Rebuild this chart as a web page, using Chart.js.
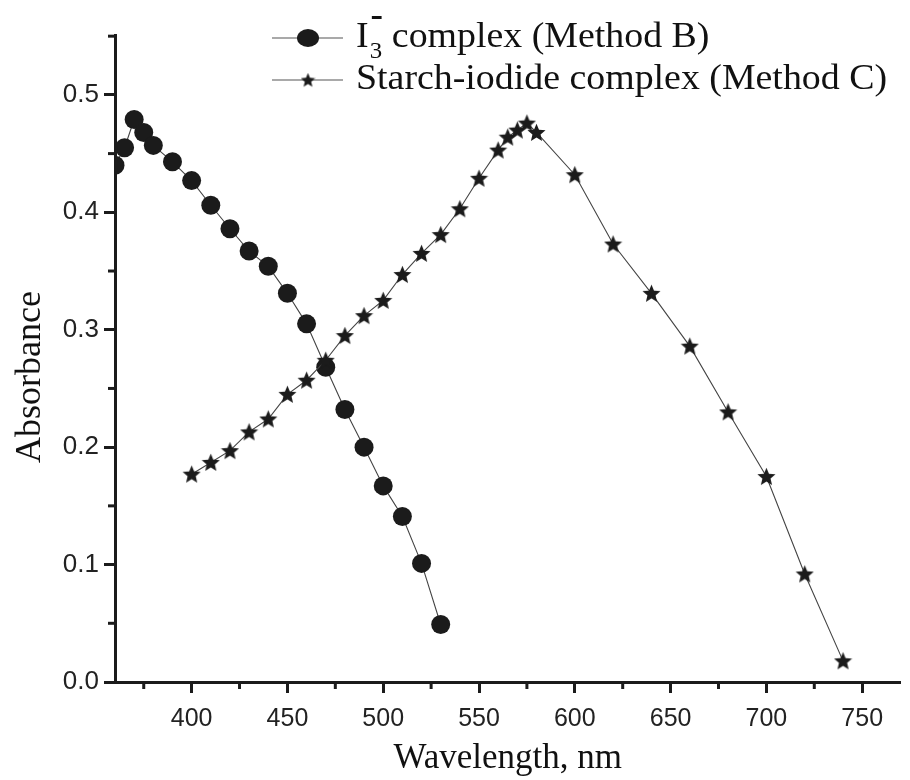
<!DOCTYPE html>
<html>
<head>
<meta charset="utf-8">
<script src="https://cdn.jsdelivr.net/npm/chart.js@4.4.1/dist/chart.umd.min.js"></script>
<style>
  html, body { margin: 0; background: #fff; overflow: hidden; }
  #wrap { width: 910px; height: 780px; position: relative; }
  #myChart { display: block; }
</style>
</head>
<body>
<div id="wrap"><canvas id="myChart"></canvas></div>
<script>
// I3- complex (Method B)
const wavelengthB = [360, 365, 370, 375, 380, 390, 400, 410, 420, 430, 440, 450, 460, 470, 480, 490, 500, 510, 520, 530];
const absorbanceB = [0.440, 0.455, 0.479, 0.468, 0.457, 0.443, 0.427, 0.406, 0.386, 0.367, 0.354, 0.331, 0.305, 0.268, 0.232, 0.200, 0.167, 0.141, 0.101, 0.049];

// Starch-iodide complex (Method C)
const wavelengthC = [400, 410, 420, 430, 440, 450, 460, 470, 480, 490, 500, 510, 520, 530, 540, 550, 560, 565, 570, 575, 580, 600, 620, 640, 660, 680, 700, 720, 740];
const absorbanceC = [0.177, 0.187, 0.197, 0.213, 0.224, 0.245, 0.257, 0.274, 0.295, 0.312, 0.325, 0.347, 0.365, 0.381, 0.403, 0.429, 0.453, 0.464, 0.470, 0.476, 0.468, 0.432, 0.373, 0.331, 0.286, 0.230, 0.175, 0.092, 0.018];

const xTicks = [400, 450, 500, 550, 600, 650, 700, 750];
const xMinorTicks = [375, 425, 475, 525, 575, 625, 675, 725];
const yTicks = [0.0, 0.1, 0.2, 0.3, 0.4, 0.5];
const yMinorTicks = [0.05, 0.15, 0.25, 0.35, 0.45, 0.55];

const labelB = "complex (Method B)";
const labelC = "Starch-iodide complex (Method C)";
const yTitle = "Absorbance";

const INK = "#1b1b1b";

function makeStar(size) {
  const c = document.createElement("canvas");
  c.width = size;
  c.height = size;
  const g = c.getContext("2d");
  const cx = size / 2, cy = size / 2 + size * 0.04;
  const R = size / 2, r = R * 0.45;
  g.beginPath();
  for (let i = 0; i < 10; i++) {
    const a = -Math.PI / 2 + i * Math.PI / 5;
    const rad = i % 2 ? r : R;
    const px = cx + rad * Math.cos(a), py = cy + rad * Math.sin(a);
    if (i === 0) g.moveTo(px, py); else g.lineTo(px, py);
  }
  g.closePath();
  g.fillStyle = INK;
  g.fill();
  return c;
}

const starImg = makeStar(19);
const legendStar = makeStar(15);

const pairs = (xs, ys) => xs.map((x, i) => ({ x: x, y: ys[i] }));

// minor ticks, y title, legend with sub/superscript
const extras = {
  id: "extras",
  afterDraw(chart) {
    const ctx = chart.ctx;
    const xs = chart.scales.x, ys = chart.scales.y;
    const area = chart.chartArea;
    ctx.save();
    ctx.strokeStyle = INK;
    ctx.lineWidth = 3;
    xMinorTicks.forEach(v => {
      const px = xs.getPixelForValue(v);
      ctx.beginPath();
      ctx.moveTo(px, area.bottom);
      ctx.lineTo(px, area.bottom + 7);
      ctx.stroke();
    });
    yMinorTicks.forEach(v => {
      if (v > ys.max + 1e-9) return;
      const py = ys.getPixelForValue(v);
      ctx.beginPath();
      ctx.moveTo(area.left, py);
      ctx.lineTo(area.left - 7, py);
      ctx.stroke();
    });

    // y axis title
    ctx.save();
    ctx.translate(31, 377);
    ctx.rotate(-Math.PI / 2);
    ctx.font = '36px "Liberation Serif"';
    ctx.fillStyle = "#111";
    ctx.textAlign = "center";
    ctx.textBaseline = "middle";
    ctx.fillText(yTitle, 0, 0);
    ctx.restore();

    // legend
    ctx.strokeStyle = "#555";
    ctx.lineWidth = 1.2;
    ctx.beginPath();
    ctx.moveTo(272, 38); ctx.lineTo(343, 38);
    ctx.moveTo(272, 80); ctx.lineTo(343, 80);
    ctx.stroke();
    ctx.fillStyle = INK;
    ctx.beginPath();
    ctx.ellipse(308, 38, 11, 9, 0, 0, Math.PI * 2);
    ctx.fill();
    ctx.drawImage(legendStar, 308 - 7.5, 80 - 7.5);

    ctx.fillStyle = "#111";
    ctx.textBaseline = "alphabetic";
    ctx.font = '35px "Liberation Serif"';
    const sx = 531 / ctx.measureText(labelC).width;
    ctx.save();
    ctx.translate(356, 0);
    ctx.scale(sx, 1);
    ctx.fillText(labelC, 0, 89);
    ctx.fillText("I", 0, 47);
    const wI = ctx.measureText("I").width;
    ctx.font = '23px "Liberation Serif"';
    ctx.fillText("3", wI + 1, 58);
    const w3 = ctx.measureText("3").width;
    ctx.fillRect(wI + 3, 16, 9, 3);
    ctx.font = '35px "Liberation Serif"';
    ctx.fillText(labelB, wI + w3 + 10, 47);
    ctx.restore();
    ctx.restore();
  }
};

const ctx = document.getElementById("myChart").getContext("2d");

new Chart(ctx, {
  type: "line",
  data: {
    datasets: [
      {
        label: labelC,
        data: pairs(wavelengthC, absorbanceC),
        borderColor: "#444",
        borderWidth: 1.1,
        pointStyle: starImg,
        pointBackgroundColor: INK,
        pointBorderColor: INK,
        tension: 0,
      },
      {
        label: labelB,
        data: pairs(wavelengthB, absorbanceB),
        borderColor: "#444",
        borderWidth: 1.1,
        pointStyle: "circle",
        pointRadius: 9.5,
        pointBackgroundColor: INK,
        pointBorderColor: INK,
        pointBorderWidth: 0,
        tension: 0,
      },
    ],
  },
  options: {
    responsive: true,
    maintainAspectRatio: false,
    animation: false,
    layout: { padding: { top: 35, right: 2, left: 0, bottom: 0 } },
    plugins: {
      legend: { display: false },
      tooltip: { enabled: false },
    },
    scales: {
      x: {
        type: "linear",
        min: 360,
        max: 770,
        afterBuildTicks: (scale) => {
          scale.ticks = xTicks.map(v => ({ value: v }));
        },
        afterFit: (scale) => { scale.height = 98; },
        ticks: {
          font: { family: '"Liberation Sans", Arial', size: 25 },
          color: "#222",
          padding: 11,
          maxRotation: 0,
        },
        grid: {
          drawOnChartArea: false,
          tickLength: 11,
          tickWidth: 3,
          tickColor: INK,
        },
        border: { display: true, width: 3, color: INK },
        title: {
          display: true,
          text: "Wavelength, nm",
          font: { family: '"Liberation Serif"', size: 35 },
          color: "#111",
          padding: { top: 0, bottom: 0 },
        },
      },
      y: {
        min: 0,
        max: 0.551,
        afterBuildTicks: (scale) => {
          scale.ticks = yTicks.map(v => ({ value: v }));
        },
        afterFit: (scale) => { scale.width = 115; },
        ticks: {
          font: { family: '"Liberation Sans", Arial', size: 26 },
          color: "#222",
          padding: 5,
          callback: (v) => v.toFixed(1),
        },
        grid: {
          drawOnChartArea: false,
          tickLength: 11,
          tickWidth: 3,
          tickColor: INK,
        },
        border: { display: true, width: 3, color: INK },
      },
    },
  },
  plugins: [extras],
});
</script>
</body>
</html>
